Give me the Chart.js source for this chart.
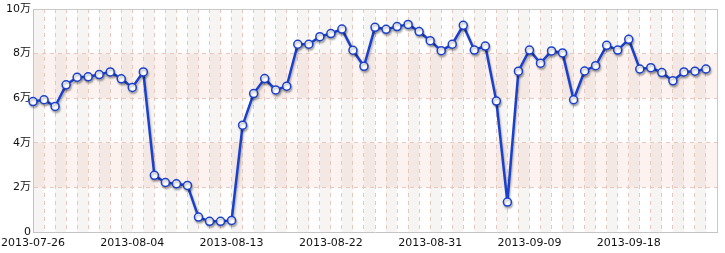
<!DOCTYPE html>
<html>
<head>
<meta charset="utf-8">
<script src="https://cdn.jsdelivr.net/npm/chart.js@4/dist/chart.umd.min.js"></script>
<style>
  html, body { margin: 0; padding: 0; background: #fff; }
  #wrap { width: 725px; height: 253px; }
</style>
</head>
<body>
<div id="wrap"><canvas id="chart" width="725" height="253"></canvas></div>
<script>
// first day of the series, one point per day
var startDate = '2013-07-26';
// daily values
var visits = [
    58500, 59300, 56300, 66000, 69400, 69600, 70600, 71800, 68700, 64800,
    71800, 25400, 22200, 21600, 20900, 6700, 4800, 4800, 5200, 47900,
    62100, 68800, 63700, 65400, 84200, 84200, 87600, 89000, 91000, 81500,
    74300, 91800, 90900, 92100, 93100, 89900, 85800, 81300, 84200, 92700,
    81600, 83400, 58700, 13400, 72100, 81600, 75700, 81200, 80300, 59300,
    72200, 74600, 83700, 81600, 86400, 73100, 73700, 71500, 67800, 71800,
    72100, 73100
];
// y tick values and which bands get the pink shade
var yTicks = [0, 20000, 40000, 60000, 80000, 100000];
var pinkBands = [[20000, 40000], [60000, 80000]];
var labelEvery = 9;

// build the day labels (one extra empty slot at the right edge)
function buildDates(start, count) {
    var out = [];
    var d = new Date(start + 'T00:00:00Z');
    for (var i = 0; i < count; i++) {
        var dd = new Date(d.getTime() + i * 86400000);
        out.push(dd.toISOString().slice(0, 10));
    }
    return out;
}
var dates = buildDates(startDate, visits.length + 1);

var fontFamily = "'DejaVu Sans', 'Noto Sans CJK SC', sans-serif";

// background bands, alternating columns and the frame
var backdrop = {
    id: 'backdrop',
    beforeDraw: function(chart) {
        var ctx = chart.ctx, area = chart.chartArea;
        var x = chart.scales.x, y = chart.scales.y;
        ctx.save();
        ctx.fillStyle = '#ffffff';
        ctx.fillRect(0, 0, chart.width, chart.height);

        ctx.fillStyle = '#fcf2ef';
        for (var b = 0; b < pinkBands.length; b++) {
            var y1 = y.getPixelForValue(pinkBands[b][1]);
            var y0 = y.getPixelForValue(pinkBands[b][0]);
            ctx.fillRect(area.left, y1, area.right - area.left, y0 - y1);
        }

        ctx.fillStyle = 'rgba(130, 120, 80, 0.07)';
        for (var k = 0; k < dates.length - 1; k += 2) {
            var xa = x.getPixelForValue(k);
            var xb = x.getPixelForValue(k + 1);
            ctx.fillRect(xa, area.top, xb - xa, area.bottom - area.top);
        }
        ctx.restore();
    },
    beforeDatasetsDraw: function(chart) {
        var ctx = chart.ctx, area = chart.chartArea;
        ctx.save();
        ctx.strokeStyle = '#c9c9c9';
        ctx.lineWidth = 1;
        ctx.beginPath();
        ctx.moveTo(area.left, area.top + 0.5);
        ctx.lineTo(area.right + 0.5, area.top + 0.5);
        ctx.lineTo(area.right + 0.5, area.bottom);
        ctx.stroke();
        ctx.restore();
    },
    // soft shadow under the line like the original
    beforeDatasetDraw: function(chart) {
        var ctx = chart.ctx;
        ctx.save();
        ctx.shadowColor = 'rgba(0, 0, 0, 0.28)';
        ctx.shadowOffsetX = 1;
        ctx.shadowOffsetY = 2;
        ctx.shadowBlur = 2;
    },
    afterDatasetDraw: function(chart) {
        chart.ctx.restore();
    }
};

var ctx = document.getElementById('chart');
var chart = new Chart(ctx, {
    type: 'line',
    data: {
        labels: dates,
        datasets: [{
            data: visits,
            borderColor: '#1b40cc',
            borderWidth: 2.5,
            backgroundColor: '#ffffff',
            pointRadius: 4,
            pointBorderWidth: 1.5,
            pointBorderColor: '#1b40cc',
            pointBackgroundColor: '#ffffff',
            tension: 0,
            clip: false,
            fill: false
        }]
    },
    options: {
        responsive: false,
        animation: false,
        devicePixelRatio: 1,
        layout: { padding: { top: 9, right: 8, left: 0, bottom: 0 } },
        plugins: {
            legend: { display: false },
            tooltip: { enabled: false }
        },
        scales: {
            x: {
                type: 'category',
                offset: false,
                grid: { color: '#e8c8be', lineWidth: 1, drawTicks: false },
                border: { display: true, color: '#c4c4c4', width: 1, dash: [4, 4] },
                ticks: {
                    autoSkip: false,
                    maxRotation: 0,
                    padding: 5,
                    color: '#111',
                    font: { family: fontFamily, size: 11 },
                    callback: function(val, index) {
                        return index % labelEvery === 0 && index < visits.length ? dates[index] : '';
                    }
                },
                afterFit: function(scale) {
                    scale.height = 21;
                    scale.paddingLeft = 0;
                    scale.paddingRight = 0;
                }
            },
            y: {
                min: yTicks[0],
                max: yTicks[yTicks.length - 1],
                afterBuildTicks: function(scale) {
                    scale.ticks = yTicks.map(function(v) { return { value: v }; });
                },
                grid: { color: '#e8c8be', lineWidth: 1, drawTicks: false },
                border: { display: true, color: '#c4c4c4', width: 1, dash: [4, 4] },
                ticks: {
                    padding: 2,
                    color: '#111',
                    font: { family: fontFamily, size: 11 },
                    callback: function(v) { return v === 0 ? '0' : (v / 10000) + '万'; }
                },
                afterFit: function(scale) {
                    scale.width = 33;
                    scale.paddingTop = 0;
                    scale.paddingBottom = 0;
                }
            }
        }
    },
    plugins: [backdrop]
});
</script>
</body>
</html>
